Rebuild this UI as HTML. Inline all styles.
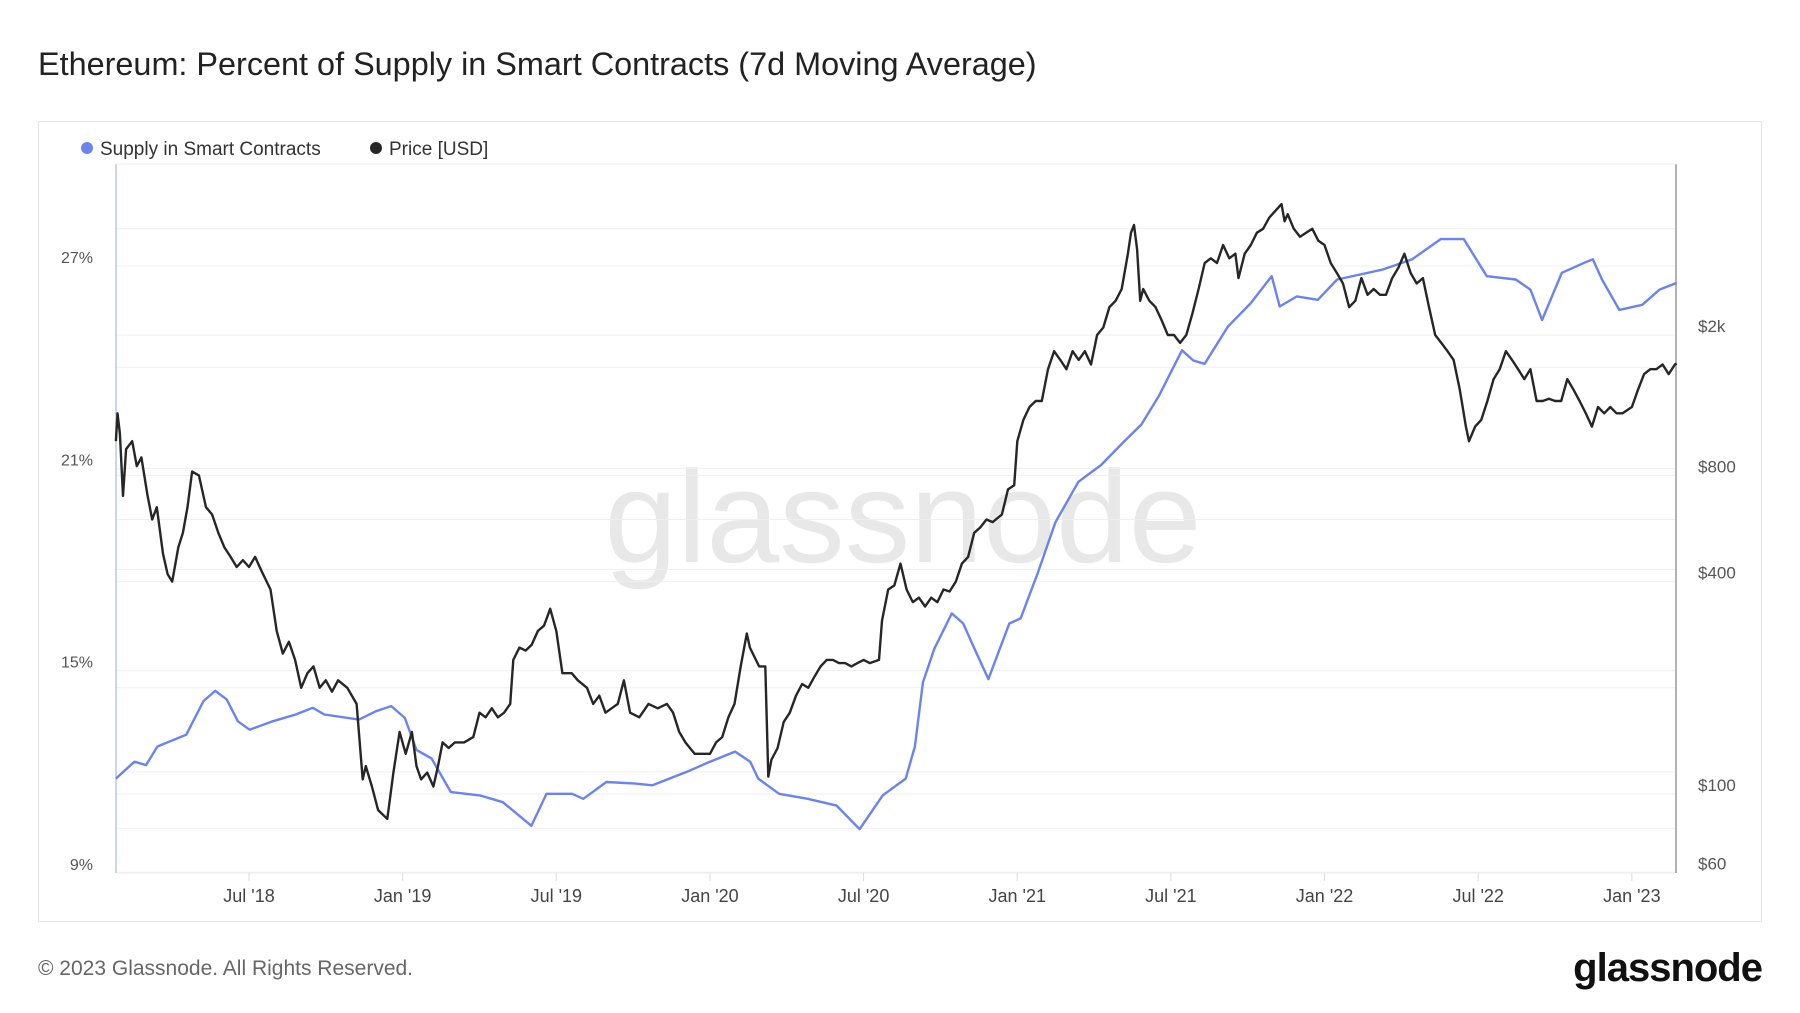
<!DOCTYPE html>
<html><head><meta charset="utf-8"><style>
body{margin:0;background:#fff;width:1800px;height:1013px;overflow:hidden;font-family:"Liberation Sans",sans-serif}
svg{display:block}
</style></head><body>
<svg id="chart" width="1800" height="1013">
<text x="38" y="75" font-size="32.4" fill="#222">Ethereum: Percent of Supply in Smart Contracts (7d Moving Average)</text>
<rect x="38.5" y="121.5" width="1723" height="800" fill="none" stroke="#e4e4e4"/>
<g>
<g><circle cx="87" cy="148" r="6" fill="#6a83f0"/><text x="100" y="155" font-size="19" fill="#333">Supply in Smart Contracts</text></g>
<g><circle cx="376" cy="148" r="6" fill="#262626"/><text x="389" y="155" font-size="19" fill="#333">Price [USD]</text></g>
</g>
<text x="903" y="562" font-size="131" fill="#e8e8e8" text-anchor="middle">glassnode</text>
<g id="grid"></g><g id="axes"></g><g id="series"></g>
<text x="38" y="975" font-size="21" fill="#666">© 2023 Glassnode. All Rights Reserved.</text>
<text x="1762" y="981" font-size="40" font-weight="bold" fill="#111" text-anchor="end" letter-spacing="-1">glassnode</text>
</svg>
<script>
const supplyDates=[2018.067,2018.127,2018.165,2018.202,2018.296,2018.352,2018.39,2018.427,2018.464,2018.502,2018.577,2018.652,2018.708,2018.745,2018.858,2018.914,2018.963,2019.007,2019.045,2019.094,2019.157,2019.251,2019.326,2019.419,2019.468,2019.551,2019.588,2019.663,2019.757,2019.813,2019.925,2020.0,2020.082,2020.131,2020.157,2020.225,2020.318,2020.412,2020.487,2020.562,2020.637,2020.667,2020.693,2020.73,2020.787,2020.824,2020.861,2020.906,2020.974,2021.011,2021.067,2021.124,2021.199,2021.273,2021.348,2021.404,2021.461,2021.536,2021.573,2021.61,2021.685,2021.76,2021.828,2021.854,2021.91,2021.978,2022.041,2022.116,2022.191,2022.285,2022.378,2022.453,2022.528,2022.622,2022.67,2022.708,2022.772,2022.846,2022.873,2022.903,2022.959,2023.034,2023.09,2023.146];
const supplyValues=[11.8,12.3,12.2,12.75,13.1,14.1,14.4,14.15,13.5,13.25,13.5,13.7,13.9,13.7,13.55,13.8,13.95,13.6,12.65,12.4,11.4,11.3,11.1,10.4,11.35,11.35,11.2,11.7,11.65,11.6,12.0,12.3,12.6,12.3,11.8,11.35,11.2,11.0,10.3,11.3,11.8,12.75,14.65,15.65,16.7,16.4,15.65,14.75,16.4,16.55,17.9,19.4,20.6,21.1,21.8,22.3,23.15,24.5,24.2,24.1,25.2,25.9,26.7,25.8,26.1,26.0,26.6,26.75,26.9,27.2,27.8,27.8,26.7,26.6,26.3,25.4,26.8,27.1,27.2,26.6,25.7,25.85,26.3,26.5];
const priceDates=[2018.067,2018.072,2018.08,2018.09,2018.10,2018.12,2018.135,2018.15,2018.17,2018.185,2018.2,2018.22,2018.235,2018.25,2018.27,2018.285,2018.3,2018.315,2018.337,2018.36,2018.38,2018.40,2018.42,2018.44,2018.46,2018.48,2018.5,2018.52,2018.54,2018.57,2018.59,2018.61,2018.63,2018.65,2018.67,2018.69,2018.71,2018.73,2018.75,2018.77,2018.79,2018.82,2018.85,2018.87,2018.88,2018.9,2018.92,2018.95,2018.97,2018.99,2019.01,2019.03,2019.045,2019.06,2019.08,2019.1,2019.115,2019.13,2019.15,2019.17,2019.2,2019.23,2019.25,2019.27,2019.29,2019.31,2019.33,2019.35,2019.36,2019.38,2019.40,2019.42,2019.44,2019.46,2019.48,2019.50,2019.52,2019.55,2019.57,2019.6,2019.62,2019.64,2019.66,2019.68,2019.7,2019.72,2019.74,2019.77,2019.8,2019.83,2019.86,2019.88,2019.9,2019.92,2019.95,2019.98,2020.0,2020.02,2020.04,2020.06,2020.08,2020.1,2020.12,2020.13,2020.16,2020.18,2020.19,2020.20,2020.22,2020.24,2020.26,2020.28,2020.3,2020.32,2020.34,2020.36,2020.38,2020.4,2020.42,2020.44,2020.46,2020.48,2020.5,2020.52,2020.55,2020.56,2020.58,2020.6,2020.62,2020.64,2020.66,2020.68,2020.7,2020.72,2020.74,2020.76,2020.78,2020.8,2020.82,2020.84,2020.86,2020.88,2020.9,2020.92,2020.95,2020.97,2020.99,2021.0,2021.02,2021.04,2021.06,2021.08,2021.1,2021.12,2021.14,2021.16,2021.18,2021.2,2021.22,2021.24,2021.26,2021.28,2021.3,2021.32,2021.34,2021.36,2021.37,2021.38,2021.39,2021.40,2021.41,2021.43,2021.45,2021.47,2021.49,2021.51,2021.53,2021.55,2021.57,2021.59,2021.61,2021.63,2021.65,2021.67,2021.69,2021.71,2021.72,2021.74,2021.76,2021.78,2021.8,2021.82,2021.84,2021.86,2021.87,2021.88,2021.9,2021.92,2021.94,2021.96,2021.98,2022.0,2022.02,2022.04,2022.06,2022.08,2022.1,2022.12,2022.14,2022.16,2022.18,2022.2,2022.22,2022.24,2022.26,2022.28,2022.3,2022.32,2022.34,2022.36,2022.38,2022.4,2022.42,2022.44,2022.46,2022.47,2022.49,2022.51,2022.53,2022.55,2022.57,2022.59,2022.61,2022.63,2022.65,2022.67,2022.69,2022.71,2022.73,2022.75,2022.77,2022.79,2022.81,2022.83,2022.85,2022.87,2022.89,2022.91,2022.93,2022.95,2022.97,2023.0,2023.02,2023.04,2023.06,2023.08,2023.1,2023.12,2023.14,2023.146];
const priceValues=[1000,1200,1050,700,950,1000,850,900,700,600,650,480,420,400,500,550,650,820,800,650,620,550,500,470,440,460,440,470,430,380,290,250,270,240,200,220,230,200,210,195,210,200,180,110,120,105,90,85,115,150,130,150,120,110,115,105,120,140,135,140,140,145,170,165,175,165,170,180,240,260,255,265,290,300,335,290,220,220,210,200,180,190,170,175,180,210,170,165,180,175,180,170,150,140,130,130,130,140,145,165,180,230,285,260,230,230,112,125,135,160,170,190,205,200,215,230,240,240,235,235,230,235,240,235,240,310,380,390,450,380,350,360,340,360,350,380,375,400,450,470,550,570,600,590,620,730,750,1000,1150,1250,1300,1300,1600,1800,1700,1600,1800,1700,1800,1650,2000,2100,2400,2500,2700,3400,3900,4100,3500,2500,2700,2500,2400,2200,2000,2000,1900,2000,2300,2700,3200,3300,3200,3600,3300,3400,2900,3400,3600,3900,4000,4300,4500,4700,4200,4400,4000,3800,3900,4000,3700,3600,3200,3000,2800,2400,2500,2900,2600,2700,2600,2600,2900,3100,3400,3000,2800,2900,2400,2000,1900,1800,1700,1400,1100,1000,1100,1150,1300,1500,1600,1800,1700,1600,1500,1600,1300,1300,1320,1300,1300,1500,1400,1300,1200,1100,1250,1200,1250,1200,1200,1250,1400,1550,1600,1600,1650,1550,1650,1660];
const pctTicks=[9,15,21,27];
const pctGrid=[9,12,15,18,21,24,27];
const priceTicks=[60,100,400,800,2000];
const priceTickLabels=["$60","$100","$400","$800","$2k"];
const priceGrid=[80,200,600,4000];
const xTickDates=[2018.5,2019,2019.5,2020,2020.5,2021,2021.5,2022,2022.5,2023];
const xTickLabels=["Jul '18","Jan '19","Jul '19","Jan '20","Jul '20","Jan '21","Jul '21","Jan '22","Jul '22","Jan '23"];

const L=116,R=1676,T=164,B=873;
const NS='http://www.w3.org/2000/svg';
function xS(t){return 249+(t-2018.5)*307.3;}
function yP(p){return B-(p-9)*33.72;}
function yU(v){return 794-106.2*Math.log2(v/100);}
function mk(tag,attrs,parent){const e=document.createElementNS(NS,tag);for(const k in attrs)e.setAttribute(k,attrs[k]);parent.appendChild(e);return e;}
const grid=document.getElementById('grid'),axes=document.getElementById('axes'),series=document.getElementById('series');
pctGrid.forEach(v=>{const l=mk('line',{x1:L,x2:R,y1:yP(v),y2:yP(v),stroke:'#efefef','stroke-width':1},grid);

});
priceTicks.concat(priceGrid).forEach(v=>{const l=mk('line',{x1:L,x2:R,y1:yU(v),y2:yU(v),stroke:'#efefef','stroke-width':1},grid);

});
const la=mk('line',{x1:L,x2:L,y1:T,y2:B,stroke:'#b7c3f7','stroke-width':1.5},axes);


const ra=mk('line',{x1:R,x2:R,y1:T,y2:B,stroke:'#999','stroke-width':1.5},axes);


const ta=mk('line',{x1:L,x2:R,y1:T,y2:T,stroke:'#eee','stroke-width':1},axes);


pctTicks.forEach(v=>{const t=mk('text',{x:93,y:yP(v)-3,'font-size':16,fill:'#555','text-anchor':'end'},axes);t.textContent=v+'%';

});
priceTicks.forEach((v,i)=>{const t=mk('text',{x:1698,y:yU(v)-3,'font-size':17,fill:'#555'},axes);t.textContent=priceTickLabels[i];

});
xTickDates.forEach((d,i)=>{const x=xS(d);
const m=mk('line',{x1:x,x2:x,y1:B,y2:B+8,stroke:'#ddd'},axes);


const t=mk('text',{x:x,y:902,'font-size':18,fill:'#444','text-anchor':'middle'},axes);t.textContent=xTickLabels[i];

});
const sp=mk('path',{d:supplyDates.map((d,i)=>(i?'L':'M')+xS(d).toFixed(1)+','+yP(supplyValues[i]).toFixed(1)).join(''),fill:'none',stroke:'#6a83f0','stroke-width':2.4,'stroke-linejoin':'round'},series);


const pp=mk('path',{d:priceDates.map((d,i)=>(i?'L':'M')+xS(d).toFixed(1)+','+yU(priceValues[i]).toFixed(1)).join(''),fill:'none',stroke:'#262626','stroke-width':2.4,'stroke-linejoin':'round'},series);


</script>
</body></html>
